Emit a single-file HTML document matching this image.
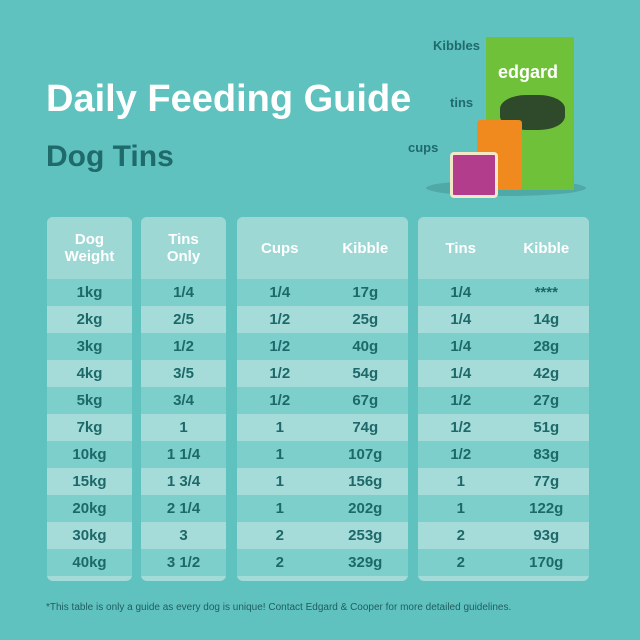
<!DOCTYPE html><html><head><style>
body{margin:0;width:640px;height:640px;background:#5fc2bf;font-family:"Liberation Sans",sans-serif;position:relative;overflow:hidden}
.t{position:absolute;white-space:nowrap}
.col{position:absolute;top:217px;height:364px;border-radius:6px;overflow:hidden;background:#a3dbd8}
.hd{height:62px;background:#9ed8d5;color:#fff;font-weight:bold;font-size:15px;display:flex;align-items:center;justify-content:space-around;text-align:center;line-height:17px}
.r{height:27px;display:flex;align-items:center;justify-content:space-around;color:#1d6868;font-weight:bold;font-size:15px}
.r:nth-child(even){background:#7dcfcb}
.r:nth-child(odd){background:#a5dcd9}
.r span,.hd span{width:50%;text-align:center}
</style></head><body>
<div class="t" style="left:46px;top:78px;font-size:38px;font-weight:bold;color:#fff">Daily Feeding Guide</div>
<div class="t" style="left:46px;top:140px;font-size:30px;font-weight:bold;color:#1f6a6b">Dog Tins</div>
<div class="t" style="left:433px;top:38px;font-size:13px;font-weight:bold;color:#1f6a6b">Kibbles</div>
<div class="t" style="left:450px;top:95px;font-size:13px;font-weight:bold;color:#1f6a6b">tins</div>
<div class="t" style="left:408px;top:140px;font-size:13px;font-weight:bold;color:#1f6a6b">cups</div>
<div style="position:absolute;left:426px;top:180px;width:160px;height:16px;border-radius:50%;background:#4fa9a7"></div>
<div style="position:absolute;left:486px;top:37px;width:88px;height:153px;background:#6fc13a"></div>
<div style="position:absolute;left:500px;top:95px;width:65px;height:35px;border-radius:40%;background:#2e4a2a"></div>
<div class="t" style="left:498px;top:62px;font-size:18px;color:#fff;font-weight:bold">edgard</div>
<div style="position:absolute;left:477px;top:120px;width:45px;height:70px;background:#f08a1e;border-radius:3px"></div>
<div style="position:absolute;left:450px;top:152px;width:42px;height:40px;background:#b13d8c;border:3px solid #f3e7c8;border-radius:4px"></div>
<div class="col" style="left:47px;width:85px"><div class="hd"><span style="width:100%">Dog<br>Weight</span></div>
<div class="r"><span style="width:100%">1kg</span></div><div class="r"><span style="width:100%">2kg</span></div><div class="r"><span style="width:100%">3kg</span></div><div class="r"><span style="width:100%">4kg</span></div><div class="r"><span style="width:100%">5kg</span></div><div class="r"><span style="width:100%">7kg</span></div><div class="r"><span style="width:100%">10kg</span></div><div class="r"><span style="width:100%">15kg</span></div><div class="r"><span style="width:100%">20kg</span></div><div class="r"><span style="width:100%">30kg</span></div><div class="r"><span style="width:100%">40kg</span></div></div>
<div class="col" style="left:141px;width:85px"><div class="hd"><span style="width:100%">Tins<br>Only</span></div>
<div class="r"><span style="width:100%">1/4</span></div><div class="r"><span style="width:100%">2/5</span></div><div class="r"><span style="width:100%">1/2</span></div><div class="r"><span style="width:100%">3/5</span></div><div class="r"><span style="width:100%">3/4</span></div><div class="r"><span style="width:100%">1</span></div><div class="r"><span style="width:100%">1 1/4</span></div><div class="r"><span style="width:100%">1 3/4</span></div><div class="r"><span style="width:100%">2 1/4</span></div><div class="r"><span style="width:100%">3</span></div><div class="r"><span style="width:100%">3 1/2</span></div></div>
<div class="col" style="left:237px;width:171px"><div class="hd"><span>Cups</span><span>Kibble</span></div>
<div class="r"><span>1/4</span><span>17g</span></div><div class="r"><span>1/2</span><span>25g</span></div><div class="r"><span>1/2</span><span>40g</span></div><div class="r"><span>1/2</span><span>54g</span></div><div class="r"><span>1/2</span><span>67g</span></div><div class="r"><span>1</span><span>74g</span></div><div class="r"><span>1</span><span>107g</span></div><div class="r"><span>1</span><span>156g</span></div><div class="r"><span>1</span><span>202g</span></div><div class="r"><span>2</span><span>253g</span></div><div class="r"><span>2</span><span>329g</span></div></div>
<div class="col" style="left:418px;width:171px"><div class="hd"><span>Tins</span><span>Kibble</span></div>
<div class="r"><span>1/4</span><span>****</span></div><div class="r"><span>1/4</span><span>14g</span></div><div class="r"><span>1/4</span><span>28g</span></div><div class="r"><span>1/4</span><span>42g</span></div><div class="r"><span>1/2</span><span>27g</span></div><div class="r"><span>1/2</span><span>51g</span></div><div class="r"><span>1/2</span><span>83g</span></div><div class="r"><span>1</span><span>77g</span></div><div class="r"><span>1</span><span>122g</span></div><div class="r"><span>2</span><span>93g</span></div><div class="r"><span>2</span><span>170g</span></div></div>
<div class="t" style="left:46px;top:602px;font-size:10px;color:#1f5e5f">*This table is only a guide as every dog is unique! Contact Edgard &amp; Cooper for more detailed guidelines.</div>
</body></html>
